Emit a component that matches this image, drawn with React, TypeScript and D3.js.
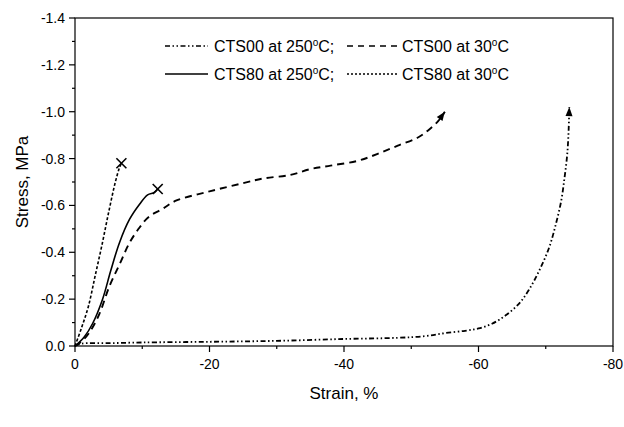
import React from "react";
import * as d3 from "d3";

// Data (strain %, stress MPa)
const cts00_250_strain = [0, 1, 5, 10, 20, 30, 40, 48, 52, 55, 58, 60, 62, 64, 66, 67.5, 69, 70.5, 71.5, 72.3, 72.8, 73.2, 73.4, 73.5];
const cts00_250_stress = [0, 0.01, 0.012, 0.015, 0.018, 0.022, 0.03, 0.035, 0.042, 0.055, 0.065, 0.075, 0.095, 0.13, 0.18, 0.24, 0.32, 0.42, 0.52, 0.62, 0.72, 0.82, 0.92, 1.02];

const cts00_30_strain = [0, 1, 2.1, 3.6, 5.1, 6.6, 8.1, 9.6, 11, 13, 15, 20, 25, 28, 32, 35, 38, 42, 45, 48, 51, 52.5, 54, 55];
const cts00_30_stress = [0, 0.02, 0.056, 0.135, 0.254, 0.347, 0.44, 0.506, 0.552, 0.585, 0.62, 0.66, 0.695, 0.715, 0.73, 0.755, 0.77, 0.79, 0.82, 0.855, 0.89, 0.92, 0.96, 1.0];

const cts80_250_strain = [0, 1.4, 2.6, 4.1, 5.3, 6.6, 8.1, 9.6, 10.8, 11.8, 12.3];
const cts80_250_stress = [0, 0.04, 0.095, 0.2, 0.32, 0.44, 0.54, 0.605, 0.645, 0.655, 0.67];

const cts80_30_strain = [0, 1, 2, 3, 4, 5, 6, 6.6, 6.9];
const cts80_30_stress = [0, 0.08, 0.17, 0.3, 0.43, 0.57, 0.7, 0.76, 0.78];

const xTicks = [0, -20, -40, -60, -80];
const xMinor = [-10, -30, -50, -70];
const yTicks = [0, -0.2, -0.4, -0.6, -0.8, -1.0, -1.2, -1.4];
const yMinor = [-0.1, -0.3, -0.5, -0.7, -0.9, -1.1, -1.3];

const W = 624, H = 427;
const L = 75, R = 613, T = 18, B = 346;

const x = d3.scaleLinear().domain([0, -80]).range([L, R]);
const y = d3.scaleLinear().domain([0, -1.4]).range([B, T]);

const toPts = (s: number[], v: number[]) => s.map((d, i) => [-d, -v[i]] as [number, number]);
const line = d3.line<[number, number]>().x(d => x(d[0])).y(d => y(d[1])).curve(d3.curveCatmullRom);

const font = "'Liberation Sans', Arial, sans-serif";

function Arrow({ pts }: { pts: [number, number][] }) {
  const a = pts[pts.length - 2], b = pts[pts.length - 1];
  const x1 = x(a[0]), y1 = y(a[1]), x2 = x(b[0]), y2 = y(b[1]);
  const ang = Math.atan2(y2 - y1, x2 - x1);
  const len = 9, w = 3.5;
  const bx = x2 - len * Math.cos(ang), by = y2 - len * Math.sin(ang);
  const p = `${x2},${y2} ${bx + w * Math.sin(ang)},${by - w * Math.cos(ang)} ${bx - w * Math.sin(ang)},${by + w * Math.cos(ang)}`;
  return <polygon points={p} fill="#000" />;
}

function XMark({ pt }: { pt: [number, number] }) {
  const cx = x(pt[0]), cy = y(pt[1]), r = 5;
  return (
    <g stroke="#000" strokeWidth={1.6}>
      <line x1={cx - r} y1={cy - r} x2={cx + r} y2={cy + r} />
      <line x1={cx - r} y1={cy + r} x2={cx + r} y2={cy - r} />
    </g>
  );
}

function Deg({ t }: { t: string }) {
  return (
    <>
      {t}
      <tspan dy={-6} fontSize={10}>o</tspan>
      <tspan dy={6}>C</tspan>
    </>
  );
}

export default function App() {
  const s1 = toPts(cts00_250_strain, cts00_250_stress);
  const s2 = toPts(cts00_30_strain, cts00_30_stress);
  const s3 = toPts(cts80_250_strain, cts80_250_stress);
  const s4 = toPts(cts80_30_strain, cts80_30_stress);
  const dashDot = "5,2.5,1.5,2.5,1.5,2.5";
  const dash = "7,5";
  const dot = "3,2";
  return (
    <svg width={W} height={H} style={{ position: "absolute", left: 0, top: 0, background: "#fff" }} fontFamily={font}>
      <rect x={0} y={0} width={W} height={H} fill="#fff" />
      {/* frame */}
      <rect x={L} y={T} width={R - L} height={B - T} fill="none" stroke="#000" strokeWidth={1.2} />
      {/* x ticks */}
      {xTicks.map(t => (
        <g key={t}>
          <line x1={x(t)} x2={x(t)} y1={B} y2={B + 6} stroke="#000" strokeWidth={1.2} />
          <text x={x(t)} y={B + 23} textAnchor="middle" fontSize={14}>{t === 0 ? "0" : String(t)}</text>
        </g>
      ))}
      {xMinor.map(t => (
        <line key={t} x1={x(t)} x2={x(t)} y1={B} y2={B + 3} stroke="#000" strokeWidth={1.2} />
      ))}
      {/* y ticks */}
      {yTicks.map(t => (
        <g key={t}>
          <line x1={L - 6} x2={L} y1={y(t)} y2={y(t)} stroke="#000" strokeWidth={1.2} />
          <text x={L - 10} y={y(t) + 5} textAnchor="end" fontSize={14}>{Math.abs(t) < 1e-9 ? "0.0" : t.toFixed(1)}</text>
        </g>
      ))}
      {yMinor.map(t => (
        <line key={t} x1={L - 3} x2={L} y1={y(t)} y2={y(t)} stroke="#000" strokeWidth={1.2} />
      ))}
      {/* axis titles */}
      <text x={(L + R) / 2} y={399} textAnchor="middle" fontSize={17}>Strain, %</text>
      <text transform={`translate(28,${(T + B) / 2}) rotate(-90)`} textAnchor="middle" fontSize={17}>Stress, MPa</text>
      {/* series */}
      <path d={line(s1) || ""} fill="none" stroke="#000" strokeWidth={1.8} strokeDasharray={dashDot} />
      <Arrow pts={s1} />
      <path d={line(s2) || ""} fill="none" stroke="#000" strokeWidth={1.9} strokeDasharray={dash} />
      <Arrow pts={s2} />
      <path d={line(s3) || ""} fill="none" stroke="#000" strokeWidth={1.6} />
      <XMark pt={s3[s3.length - 1]} />
      <path d={line(s4) || ""} fill="none" stroke="#000" strokeWidth={1.6} strokeDasharray={dot} />
      <XMark pt={s4[s4.length - 1]} />
      {/* legend */}
      <g fontSize={16}>
        <line x1={165} x2={208} y1={46} y2={46} stroke="#000" strokeWidth={1.5} strokeDasharray={dashDot} />
        <text x={214} y={52}><Deg t="CTS00 at 250" />;</text>
        <line x1={347} x2={397} y1={46} y2={46} stroke="#000" strokeWidth={1.5} strokeDasharray="6,5" />
        <text x={402} y={52}><Deg t="CTS00 at 30" /></text>
        <line x1={165} x2={208} y1={74} y2={74} stroke="#000" strokeWidth={1.5} />
        <text x={214} y={80}><Deg t="CTS80 at 250" />;</text>
        <line x1={347} x2={397} y1={74} y2={74} stroke="#000" strokeWidth={1.5} strokeDasharray="2,2" />
        <text x={402} y={80}><Deg t="CTS80 at 30" /></text>
      </g>
    </svg>
  );
}
